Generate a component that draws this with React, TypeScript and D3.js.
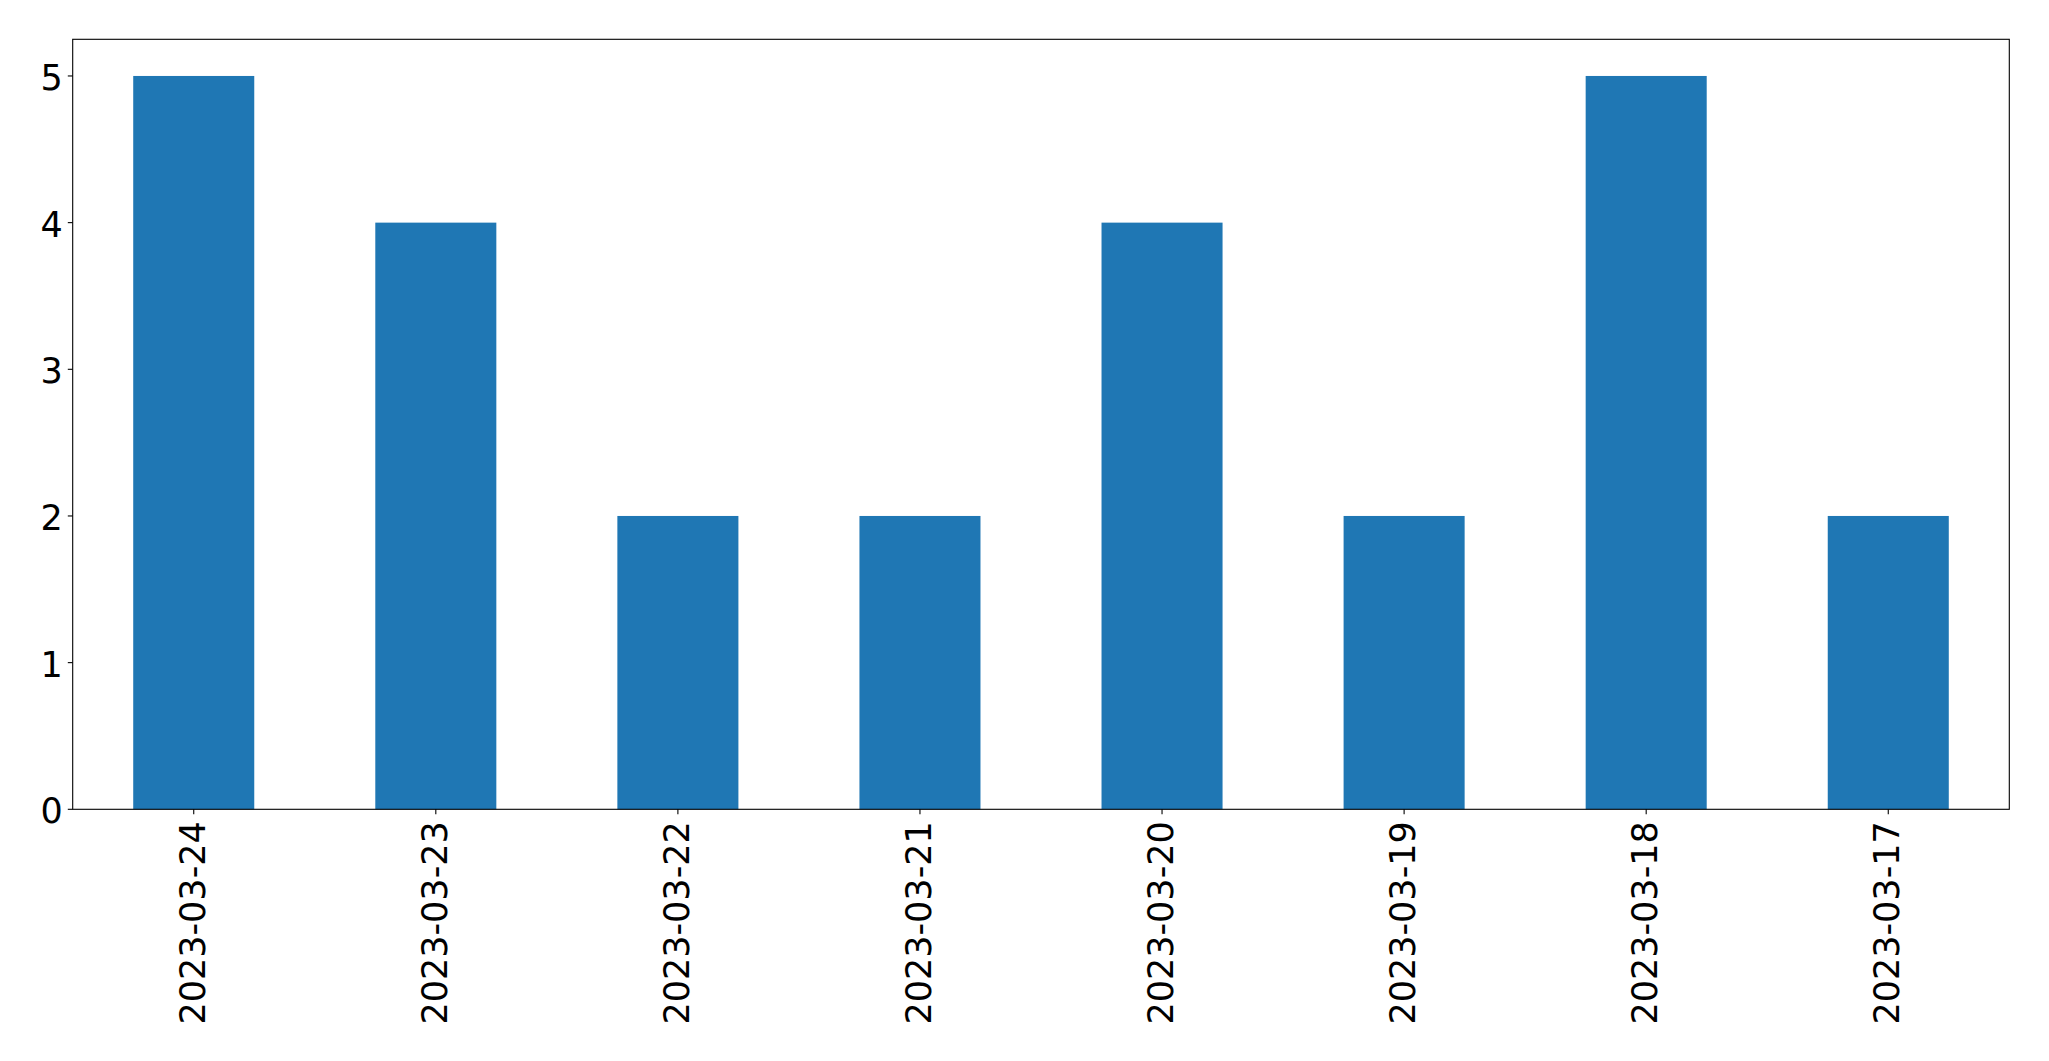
import React from "react";
import * as d3 from "d3";

const categories: string[] = [
  "2023-03-24",
  "2023-03-23",
  "2023-03-22",
  "2023-03-21",
  "2023-03-20",
  "2023-03-19",
  "2023-03-18",
  "2023-03-17",
];
const values: number[] = [5, 4, 2, 2, 4, 2, 5, 2];
const yTicks: number[] = [0, 1, 2, 3, 4, 5];

const W = 2049;
const H = 1061;
const left = 72.7;
const right = 2009.3;
const top = 39.3;
const bottom = 809.3;
const FONT = "'DejaVu Sans', sans-serif";
const FS = 35;
const TICK = 4.9;

export default function App() {
  const x = d3
    .scaleLinear()
    .domain([-0.5, categories.length - 0.5])
    .range([left, right]);
  const y = d3.scaleLinear().domain([0, 5.25]).range([bottom, top]);
  const barW = x(0.5) - x(0);

  return (
    <svg
      width={W}
      height={H}
      style={{ position: "absolute", left: 0, top: 0, background: "#fff" }}
    >
      <rect x={0} y={0} width={W} height={H} fill="#fff" />
      {values.map((v, i) => (
        <rect
          key={i}
          x={x(i) - barW / 2}
          y={y(v)}
          width={barW}
          height={y(0) - y(v)}
          fill="#1f77b4"
        />
      ))}
      <rect
        x={left}
        y={top}
        width={right - left}
        height={bottom - top}
        fill="none"
        stroke="#000"
        strokeWidth={1.1}
      />
      {yTicks.map((t) => (
        <g key={t}>
          <line
            x1={left - TICK}
            x2={left}
            y1={y(t)}
            y2={y(t)}
            stroke="#000"
            strokeWidth={1.1}
          />
          <text
            x={left - TICK - 4.9}
            y={y(t) + 14}
            textAnchor="end"
            fontFamily={FONT}
            fontSize={FS}
            fill="#000"
          >
            {t}
          </text>
        </g>
      ))}
      {categories.map((c, i) => (
        <g key={c}>
          <line
            x1={x(i)}
            x2={x(i)}
            y1={bottom}
            y2={bottom + TICK}
            stroke="#000"
            strokeWidth={1.1}
          />
          <text
            transform={`translate(${x(i) + 11}, ${bottom + TICK + 7}) rotate(-90)`}
            textAnchor="end"
            fontFamily={FONT}
            fontSize={FS}
            fill="#000"
          >
            {c}
          </text>
        </g>
      ))}
    </svg>
  );
}
